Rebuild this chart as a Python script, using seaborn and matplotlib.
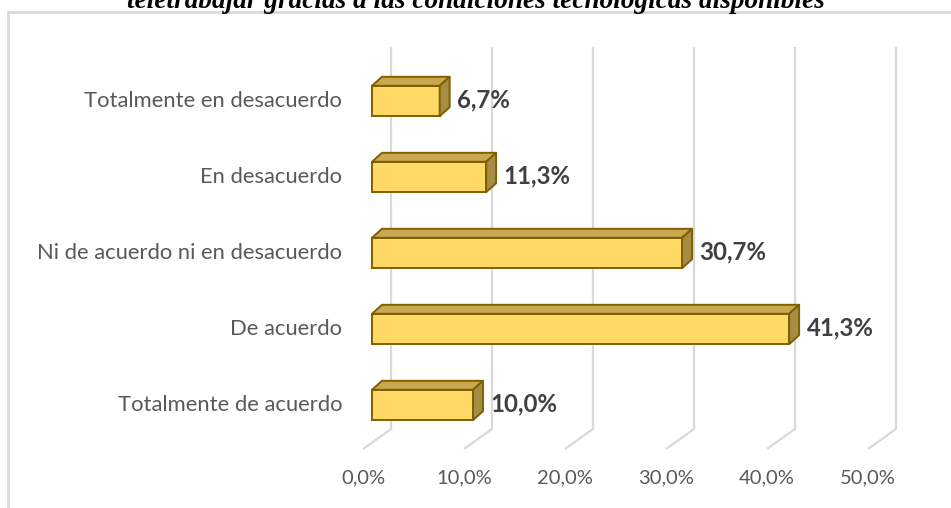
import matplotlib
matplotlib.use("Agg")
import matplotlib.pyplot as plt
import seaborn as sns
import pandas as pd
from matplotlib.patches import Polygon, Rectangle

categories = ["Totalmente en desacuerdo", "En desacuerdo",
              "Ni de acuerdo ni en desacuerdo", "De acuerdo",
              "Totalmente de acuerdo"]
values = [6.7, 11.3, 30.7, 41.3, 10.0]
value_labels = ["6,7%", "11,3%", "30,7%", "41,3%", "10,0%"]
tick_values = [0, 10, 20, 30, 40, 50]
tick_labels = ["0,0%", "10,0%", "20,0%", "30,0%", "40,0%", "50,0%"]
title = "teletrabajar gracias a las condiciones tecnológicas disponibles"

sns.set_theme(style="white")
plt.rcParams['font.family'] = ['Lato', 'DejaVu Sans']

W, H = 951, 508
fig = plt.figure(figsize=(W / 100, H / 100), dpi=100)
ax = fig.add_axes([0, 0, 1, 1])

# pixel mapping
PX0, PXS = 372.0, 10.1   # x px = PX0 + PXS * value
PY0, PYS = 101.0, 76.0   # y px (from top) = PY0 + PYS * index
def xd(px): return (px - PX0) / PXS
def yd(py): return (py - PY0) / PYS

df = pd.DataFrame({"cat": categories, "val": values})
sns.barplot(data=df, x="val", y="cat", orient="h", width=0.4,
            color="#FFD966", saturation=1, edgecolor="#7F6000",
            linewidth=1.4, ax=ax, zorder=3)

ax.set_xlim(xd(0), xd(W))
ax.set_ylim(yd(H), yd(0))
ax.axis("off")

# depth offsets in data units
DX = 10.0 / PXS
DY = 9.0 / PYS

# gridlines (back wall + floor)
back_off = xd(391)
front_off = xd(363)
for t, lab in zip(tick_values, tick_labels):
    ax.plot([t + back_off, t + back_off, t + front_off],
            [yd(47), yd(429), yd(449)], color="#D9D9D9", lw=1.6,
            zorder=1, solid_capstyle="butt")
    ax.text(t + front_off, yd(478), lab, ha="center", va="center",
            fontsize=14.5, color="#595959", zorder=5)

# 3D faces for bars
for p, lab, cat in zip(ax.patches, value_labels, categories):
    x0 = p.get_x()
    x1 = x0 + p.get_width()
    ytop = p.get_y()
    ybot = ytop + p.get_height()
    top = Polygon([(x0, ytop), (x0 + DX, ytop - DY), (x1 + DX, ytop - DY), (x1, ytop)],
                  closed=True, facecolor="#C9A850", edgecolor="#7F6000", lw=1.4, zorder=3,
                  joinstyle="round")
    side = Polygon([(x1, ytop), (x1 + DX, ytop - DY), (x1 + DX, ybot - DY), (x1, ybot)],
                   closed=True, facecolor="#A68C45", edgecolor="#7F6000", lw=1.4, zorder=3,
                   joinstyle="round")
    ax.add_patch(top)
    ax.add_patch(side)
    yc = (ytop + ybot) / 2
    ax.text(x1 + DX + 0.75, yc - 0.02, lab, ha="left", va="center",
            fontsize=17.3, fontweight="bold", color="#404040", zorder=5)
    ax.text(xd(342), yc, cat, ha="right", va="center", fontsize=15.8,
            color="#595959", zorder=5)

# title (cut off at top)
fig.text(0.5, 1 - 8 / H, title, ha="center", va="baseline",
         fontsize=19.6, fontweight="bold", fontstyle="italic",
         family=["Liberation Serif", "DejaVu Serif"], color="black")

# chart border
ax.add_patch(Rectangle((xd(8.5), yd(12)), xd(1000) - xd(8.5), yd(560) - yd(12),
                       facecolor="white", edgecolor="#D9D9D9", lw=2, zorder=0,
                       clip_on=True))

fig.savefig("out.png", dpi=100)
